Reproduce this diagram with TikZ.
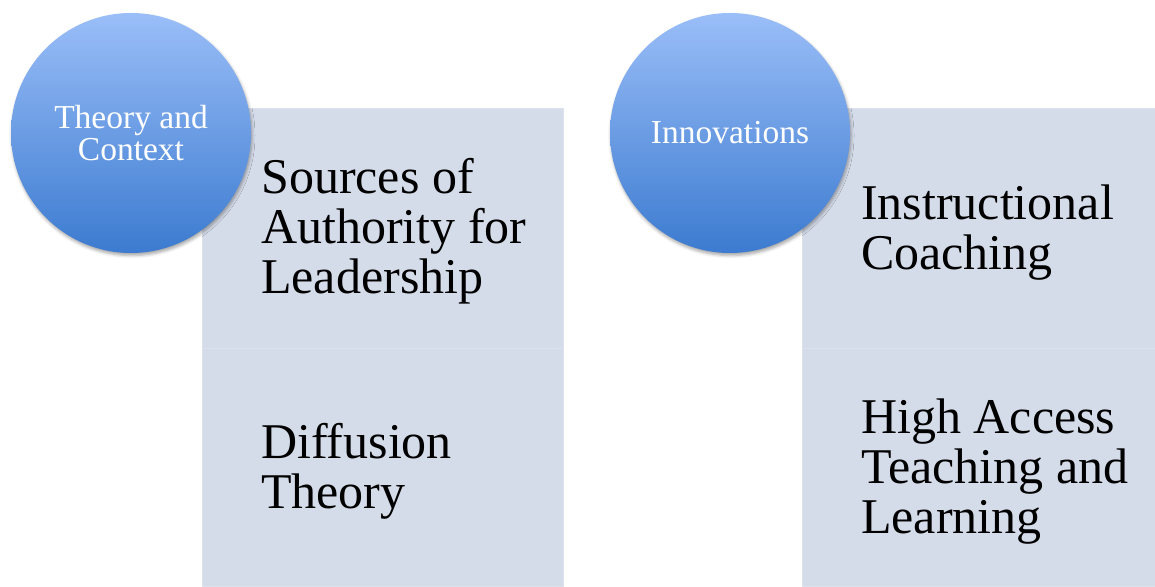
\documentclass[tikz,border=0pt]{standalone}
\usepackage{fontspec}
\setmainfont{Liberation Serif}
\usetikzlibrary{calc,shadows.blur}
\definecolor{boxfill}{HTML}{D5DCE9}
\definecolor{boxline}{HTML}{DCE1EC}
\definecolor{circtop}{HTML}{9ABEF8}
\definecolor{circbot}{HTML}{3C7BD0}
\tikzset{
  panel/.style={rectangle, fill=boxfill, draw=boxline, line width=0.8pt, minimum width=361pt, inner sep=0pt, outer sep=0pt},
  bubble/.style={circle, minimum size=240pt, inner sep=0pt, top color=circtop, bottom color=circbot, draw=none,
    blur shadow={shadow xshift=1pt, shadow yshift=-2.5pt, shadow blur radius=3pt, shadow opacity=35},
    text=white, align=center, font=\fontsize{33.5}{32}\selectfont},
  itemtext/.style={anchor=west, align=left, inner sep=0pt, font=\fontsize{50}{50}\selectfont, text=black}
}
\begin{document}
\begin{tikzpicture}[x=1pt,y=-1pt]
\useasboundingbox (0,0) rectangle (1155,586);
% left column panels
\node[panel, minimum height=240pt, anchor=north west] (b1) at (202,108) {};
\node[panel, minimum height=238pt, anchor=north west] (b2) at (202,348) {};
% right column panels
\node[panel, minimum height=240pt, anchor=north west] (b3) at (802,108) {};
\node[panel, minimum height=238pt, anchor=north west] (b4) at (802,348) {};
% circles
\node[bubble] (c1) at (131,133) {Theory and\\Context};
\node[bubble] (c2) at (730,133) {Innovations};
% texts
\node[itemtext] (t1) at ($(b1.west)+(59,3)$) {Sources of\\Authority for\\Leadership};
\node[itemtext] (t2) at ($(b2.west)+(59,4)$) {Diffusion\\Theory};
\node[itemtext] (t3) at ($(b3.west)+(59,5)$) {Instructional\\Coaching};
\node[itemtext] (t4) at ($(b4.west)+(59,5)$) {High Access\\Teaching and\\Learning};
\end{tikzpicture}
\end{document}
